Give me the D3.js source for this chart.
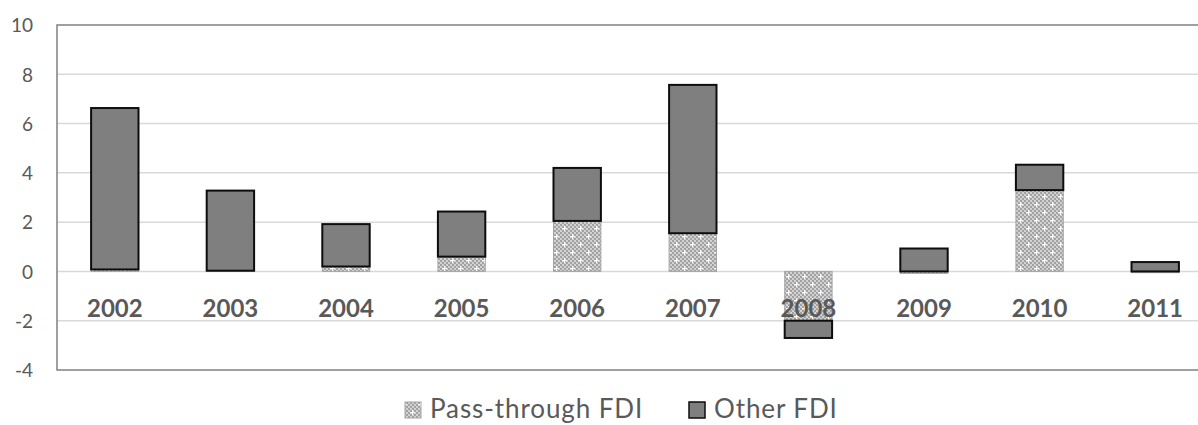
<!DOCTYPE html>
<html>
<head>
<meta charset="utf-8">
<script src="https://cdn.jsdelivr.net/npm/d3@7"></script>
<style>
  html, body { margin: 0; padding: 0; background: #fff; }
  svg { display: block; font-family: Lato, "Open Sans", sans-serif; }
</style>
</head>
<body>
<svg id="chart" width="1198" height="425"></svg>
<script>
const years = ["2002","2003","2004","2005","2006","2007","2008","2009","2010","2011"];
const passThrough = [0.08, 0.03, 0.2, 0.6, 2.05, 1.55, -2.0, -0.08, 3.3, -0.05];
const otherFDI = [6.55, 3.25, 1.72, 1.83, 2.15, 6.02, -0.7, 0.93, 1.03, 0.38];
const yTicks = [-4, -2, 0, 2, 4, 6, 8, 10];
const seriesNames = ["Pass-through FDI", "Other FDI"];

(function () {
const svg = d3.select("#chart");
const pLeft = 57, pRight = 1213, pTop = 25, pBottom = 370;

const x = d3.scaleBand().domain(years).range([pLeft, pRight]).paddingInner(0.59).paddingOuter(0.295);
const y = d3.scaleLinear().domain([-4, 10]).range([pBottom, pTop]);

const defs = svg.append("defs");
const pat = defs.append("pattern").attr("id", "dots").attr("patternUnits", "userSpaceOnUse")
  .attr("width", 16).attr("height", 16);
pat.append("rect").attr("width", 16).attr("height", 16).attr("fill", "#d2d2d2");
for (let i = 0; i < 16; i += 2) {
  for (let j = 0; j < 16; j += 2) {
    if (((i + j) / 2) % 2 === 0) pat.append("rect").attr("x", i).attr("y", j).attr("width", 2).attr("height", 2).attr("fill", "#a2a2a2");
  }
}
[[4,4],[12,12]].forEach(([cx, cy]) => {
  pat.append("rect").attr("x", cx - 2).attr("y", cy).attr("width", 5).attr("height", 1).attr("fill", "#fff");
  pat.append("rect").attr("x", cx).attr("y", cy - 2).attr("width", 1).attr("height", 5).attr("fill", "#fff");
});

// gridlines
svg.append("g").selectAll("line").data(yTicks.filter(t => t > -4 && t < 10)).join("line")
  .attr("x1", pLeft).attr("x2", pRight)
  .attr("y1", d => y(d)).attr("y2", d => y(d))
  .attr("stroke", "#d9d9d9").attr("stroke-width", 1.5);

// plot border
svg.append("rect").attr("x", pLeft).attr("y", pTop).attr("width", pRight - pLeft).attr("height", pBottom - pTop)
  .attr("fill", "none").attr("stroke", "#808080").attr("stroke-width", 1.5);

// y axis labels
const yAxis = d3.axisLeft(y).tickValues(yTicks).tickSize(0).tickPadding(0).tickFormat(d => String(d));
const ya = svg.append("g").attr("transform", `translate(33,0)`).call(yAxis);
ya.select(".domain").remove();
ya.selectAll("text").attr("font-family", "Lato, sans-serif").attr("font-size", 19).attr("fill", "#595959").attr("dy", "0.36em");

// stacked bars (diverging)
const rows = years.map((yr, i) => ({ year: yr, p: passThrough[i], o: otherFDI[i] }));
rows.forEach(r => {
  let pos = 0, neg = 0;
  const segs = [];
  [["p", r.p], ["o", r.o]].forEach(([k, v]) => {
    if (v >= 0) { segs.push({ k, y0: pos, y1: pos + v }); pos += v; }
    else { segs.push({ k, y0: neg, y1: neg + v }); neg += v; }
  });
  r.segs = segs;
});

const g = svg.append("g");
rows.forEach(r => {
  r.segs.forEach(s => {
    const yt = y(Math.max(s.y0, s.y1)), yb = y(Math.min(s.y0, s.y1));
    g.append("rect")
      .attr("x", x(r.year)).attr("width", x.bandwidth())
      .attr("y", yt).attr("height", Math.max(yb - yt, 0.5))
      .attr("fill", s.k === "p" ? "url(#dots)" : "#7f7f7f")
      .attr("stroke", s.k === "p" ? "#a6a6a6" : "#0d0d0d")
      .attr("stroke-width", s.k === "p" ? 1 : 2);
  });
});

// category labels
const xAxis = d3.axisBottom(x).tickSize(0).tickPadding(0);
const xa = svg.append("g").attr("transform", `translate(0,317)`).call(xAxis);
xa.select(".domain").remove();
xa.selectAll("text").attr("font-family", "Lato, sans-serif").attr("font-size", 24).attr("font-weight", "bold")
  .attr("fill", "#595959").attr("dy", 0).attr("y", 0);

// legend
const leg = svg.append("g");
const items = [
  { name: seriesNames[0], x: 405, fill: "url(#dots)", stroke: "#a6a6a6", sw: 1 },
  { name: seriesNames[1], x: 689, fill: "#7f7f7f", stroke: "#0d0d0d", sw: 1.5 }
];
items.forEach(it => {
  leg.append("rect").attr("x", it.x).attr("y", 402).attr("width", 16).attr("height", 16)
    .attr("fill", it.fill).attr("stroke", it.stroke).attr("stroke-width", it.sw);
  leg.append("text").attr("x", it.x + 25).attr("y", 418).text(it.name)
    .attr("font-family", "Lato, sans-serif").attr("font-size", 26).attr("letter-spacing", 0.9).attr("fill", "#595959");
});
})();
</script>
</body>
</html>
